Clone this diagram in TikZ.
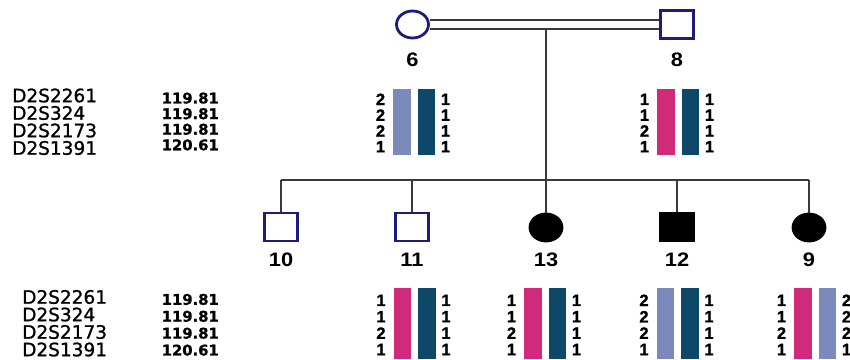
\documentclass[tikz,border=0pt]{standalone}
\usepackage{fontspec}
\setmainfont{DejaVu Sans}
\newfontfamily\numfont[FakeStretch=1.12]{Liberation Sans}
\newfontfamily\digfont[FakeBold=1.2]{Liberation Sans}
\newfontfamily\posfont[FakeBold=0.8]{DejaVu Sans}
\newfontfamily\mkfont[FakeBold=1.1]{DejaVu Sans}
\usetikzlibrary{shapes.geometric,calc}

\definecolor{navy}{HTML}{1C1C7C}
\definecolor{hlight}{HTML}{7B8ABB}
\definecolor{hdark}{HTML}{0E4868}
\definecolor{hpink}{HTML}{D22A7A}
\definecolor{linegray}{HTML}{3A3A3A}

\begin{document}
\begin{tikzpicture}[x=1pt,y=-1pt,
  female/.style={ellipse,draw=navy,line width=2.8pt,fill=white,minimum width=32pt,minimum height=27pt,inner sep=0pt},
  male/.style={rectangle,draw=navy,line width=2.8pt,fill=white,minimum width=33pt,minimum height=28pt,inner sep=0pt},
  affected/.style={draw=black,fill=black},
  idlbl/.style={font=\numfont\fontsize{19.5}{21}\selectfont\bfseries,inner sep=0pt},
  marker/.style={font=\mkfont\fontsize{18.5}{20}\selectfont,anchor=west,inner sep=0pt},
  cmpos/.style={font=\posfont\fontsize{14.8}{16}\selectfont\bfseries,anchor=west,inner sep=0pt},
  allele/.style={font=\digfont\fontsize{16.5}{18}\selectfont\bfseries,inner sep=0pt},
  bar/.style={rectangle,draw=none,minimum width=17.5pt,inner sep=0pt,anchor=north west},
  link/.style={draw=linegray,line width=1.3pt},
  marriage/.style={draw=linegray,line width=1.3pt,double=white,double distance=7.5pt}
]
\useasboundingbox (0,0) rectangle (850,359);

% parents
\node[female] (i6) at (412.5,24.5) {};
\node[male]   (i8) at (677,24.5) {};
\node[idlbl] (l6) at (412.5,60) {6};
\node[idlbl] (l8) at (677,60) {8};

% children
\node[male] (i10) at (281,227) {};
\node[male] (i11) at (412,227) {};
\node[female,affected] (i13) at (546,227.5) {};
\node[male,affected] (i12) at (677,227) {};
\node[female,affected] (i9) at (809,227.5) {};
\node[idlbl] (l10) at (281,260) {10};
\node[idlbl] (l11) at (412,260) {11};
\node[idlbl] (l13) at (546,260) {13};
\node[idlbl] (l12) at (677,260) {12};
\node[idlbl] (l9) at (809,260) {9};

% consanguineous mating line and descent
\coordinate (mid) at (546,29);
\coordinate (sib) at (546,180);
\draw[marriage] (i6) -- (i8);
\draw[link] (mid) -- (sib);
\draw[link] (i10.north |- sib) -- (i9.north |- sib);
\foreach \c in {i10,i11,i13,i12,i9}
  \draw[link] (\c.north |- sib) -- (\c.north);

% marker names and positions
\foreach \m [count=\i] in {D2S2261,D2S324,D2S2173,D2S1391} {
  \node[marker] (mt\i) at (12,{78+17.5*\i}) {\m};
  \node[marker] (mb\i) at (22,{279.5+17.5*\i}) {\m};
}
\foreach \p [count=\i] in {119.81,119.81,119.81,120.61} {
  \node[cmpos] (pt\i) at (161.5,{82.5+15.6*\i}) {\p};
  \node[cmpos] (pb\i) at (161.5,{282.5+16.9*\i}) {\p};
}

% haplotype bars with allele numbers:
% name / left edge / top / bar height / first row / row step / colours / alleles
\foreach \n/\L/\T/\H/\R/\S/\ca/\cb/\ld/\rd in {
  h6/393/89/66/99.3/15.8/hlight/hdark/{2,2,2,1}/{1,1,1,1},
  h8/657/89/66/99.3/15.8/hpink/hdark/{1,1,2,1}/{1,1,1,1},
  h11/393.5/288/71/300.3/16.4/hpink/hdark/{1,1,2,1}/{1,1,1,1},
  h13/524/288/71/300.3/16.4/hpink/hdark/{1,1,2,1}/{1,1,1,1},
  h12/656.5/288/71/300.3/16.4/hlight/hdark/{2,2,2,1}/{1,1,1,1},
  h9/794/288/71/300.3/16.4/hpink/hlight/{1,1,2,1}/{2,2,2,1}} {
  \node[bar,fill=\ca,minimum height=\H pt] (\n-a) at (\L,\T) {};
  \node[bar,fill=\cb,minimum height=\H pt] (\n-b) at ({\L+24.5},\T) {};
  \foreach \d [count=\i] in \ld
    \node[allele] (\n-l\i) at ({\L-12.5},{\R+\S*(\i-1)}) {\d};
  \foreach \d [count=\i] in \rd
    \node[allele] (\n-r\i) at ({\L+52.5},{\R+\S*(\i-1)}) {\d};
}
\end{tikzpicture}
\end{document}
